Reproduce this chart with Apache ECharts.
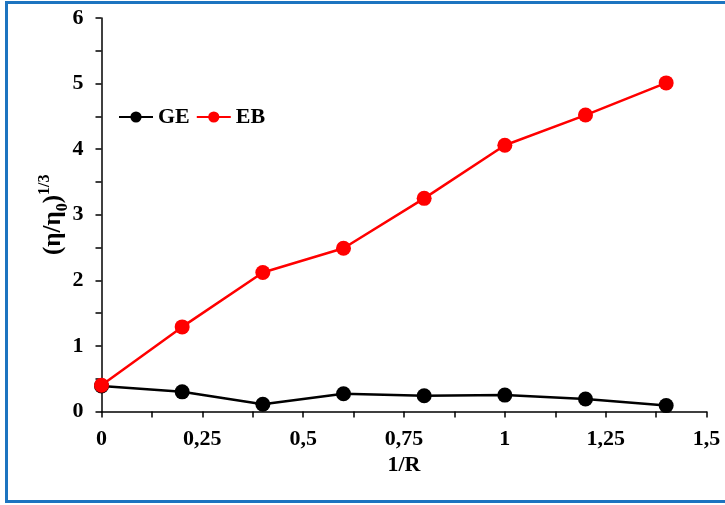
<!DOCTYPE html>
<html>
<head>
<meta charset="utf-8">
<script src="https://cdn.jsdelivr.net/npm/echarts@6/dist/echarts.min.js"></script>
<style>
  html, body { margin: 0; padding: 0; background: #fff; }
  #chart { width: 725px; height: 505px; }
</style>
</head>
<body>
<div id="chart"></div>
<script>
const xValues = [0, 0.2, 0.4, 0.6, 0.8, 1.0, 1.2, 1.4];
const geValues = [0.39, 0.30, 0.11, 0.27, 0.24, 0.25, 0.19, 0.09];
const ebValues = [0.40, 1.29, 2.12, 2.49, 3.25, 4.06, 4.52, 5.01];

const font = "Liberation Serif";

function pairs(ys) {
  return xValues.map((x, i) => [x, ys[i]]);
}

const myChart = echarts.init(document.getElementById("chart"));
myChart.setOption({
  animation: false,
  backgroundColor: "#fff",
  graphic: [
    {
      type: "rect",
      shape: { x: 6.5, y: 2.5, width: 740, height: 499 },
      style: { fill: "none", stroke: "#1d74c0", lineWidth: 3 }
    }
  ],
  grid: {
    left: 101.5,
    right: 18.5,
    top: 18,
    bottom: 93.5,
    containLabel: false
  },
  legend: {
    left: 113,
    top: 101,
    itemWidth: 34,
    itemHeight: 14,
    itemGap: 6,
    textStyle: { fontFamily: font, fontWeight: "bold", fontSize: 22, color: "#000" },
    data: ["GE", "EB"]
  },
  xAxis: {
    type: "value",
    min: 0,
    max: 1.5,
    interval: 0.25,
    name: "1/R",
    nameLocation: "middle",
    nameGap: 43,
    nameMoveOverlap: false,
    nameTextStyle: { fontFamily: font, fontWeight: "bold", fontSize: 22, color: "#000" },
    axisLine: { lineStyle: { color: "#000", width: 1.5 } },
    axisTick: { show: true, length: 6, lineStyle: { color: "#000", width: 1.5 } },
    minorTick: { show: true, splitNumber: 2, length: 6, lineStyle: { color: "#000", width: 1.5 } },
    splitLine: { show: false },
    axisLabel: {
      margin: 17,
      fontFamily: font,
      fontWeight: "bold",
      fontSize: 22,
      color: "#000",
      formatter: v => String(v).replace(".", ",")
    }
  },
  yAxis: {
    type: "value",
    min: 0,
    max: 6,
    interval: 1,
    name: "{a|(η/η}{s|0}{a|)}{p|1/3}",
    nameLocation: "middle",
    nameGap: 31,
    nameMoveOverlap: false,
    nameRotate: 90,
    nameTextStyle: {
      rich: {
        a: { fontFamily: font, fontWeight: "bold", fontSize: 25, color: "#000", lineHeight: 34, verticalAlign: "middle" },
        s: { fontFamily: font, fontWeight: "bold", fontSize: 16, color: "#000", lineHeight: 34, verticalAlign: "bottom" },
        p: { fontFamily: font, fontWeight: "bold", fontSize: 16, color: "#000", lineHeight: 34, verticalAlign: "top" }
      }
    },
    axisLine: { show: true, lineStyle: { color: "#000", width: 1.5 } },
    axisTick: { show: true, length: 6, lineStyle: { color: "#000", width: 1.5 } },
    minorTick: { show: true, splitNumber: 2, length: 6, lineStyle: { color: "#000", width: 1.5 } },
    splitLine: { show: false },
    axisLabel: {
      margin: 18,
      fontFamily: font,
      fontWeight: "bold",
      fontSize: 22,
      color: "#000"
    }
  },
  series: [
    {
      name: "GE",
      type: "line",
      symbol: "circle",
      symbolSize: 15,
      color: "#000",
      lineStyle: { color: "#000", width: 2.5 },
      itemStyle: { color: "#000" },
      data: pairs(geValues)
    },
    {
      name: "EB",
      type: "line",
      symbol: "circle",
      symbolSize: 15,
      color: "#ff0000",
      lineStyle: { color: "#ff0000", width: 2.5 },
      itemStyle: { color: "#ff0000" },
      data: pairs(ebValues)
    }
  ]
});
</script>
</body>
</html>
